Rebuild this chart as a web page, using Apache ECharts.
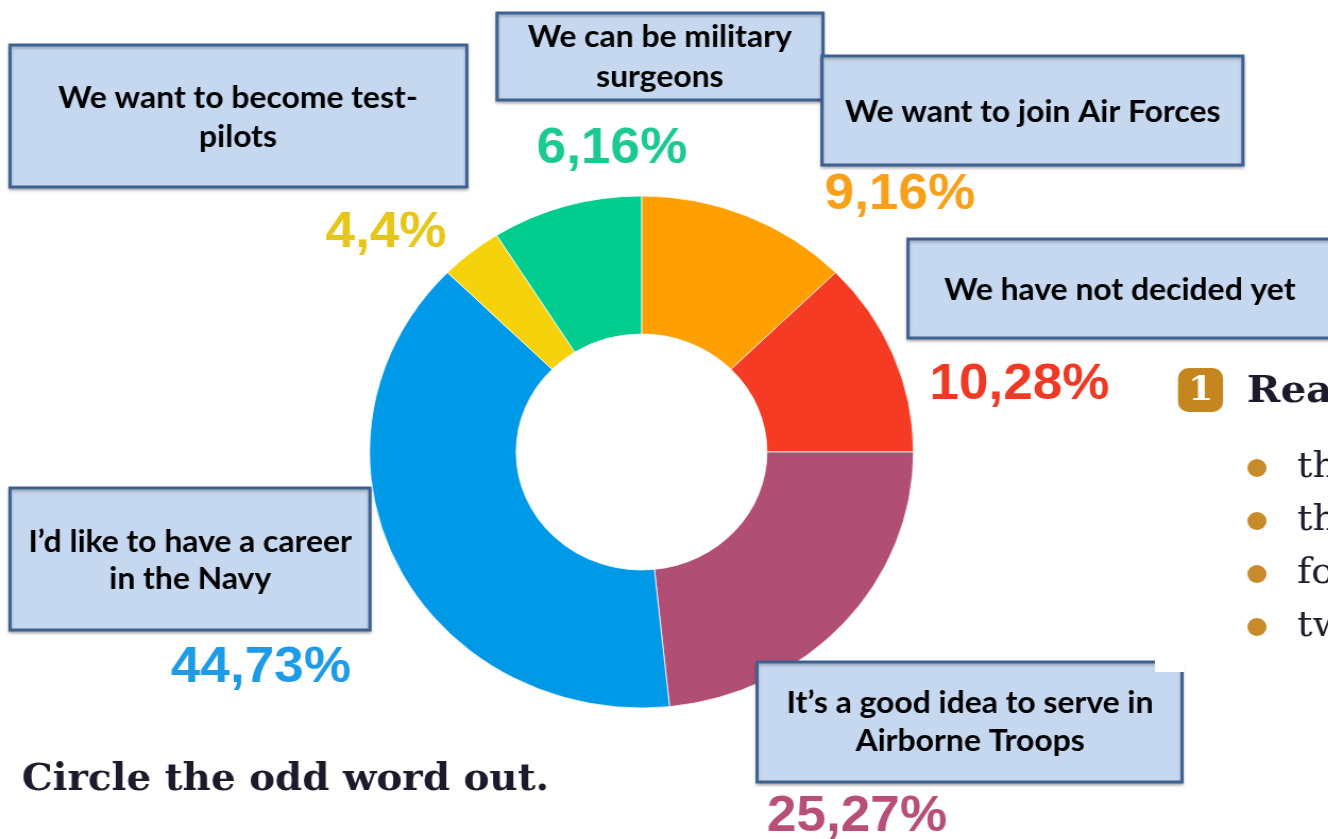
<!DOCTYPE html>
<html>
<head>
<meta charset="utf-8">
<script src="https://cdn.jsdelivr.net/npm/echarts@6/dist/echarts.min.js"></script>
<style>
html,body{margin:0;padding:0;background:#fff;overflow:hidden;width:1328px;height:839px;}
#chart{width:1250px;height:839px;transform:scaleX(1.0625);transform-origin:0 0;}
</style>
</head>
<body>
<div id="chart"></div>
<script>
// Categories (clockwise from 12 o'clock)
var categories = ["We want to join Air Forces", "We have not decided yet", "It’s a good idea to serve in Airborne Troops", "I’d like to have a career in the Navy", "We want to become test-pilots", "We can be military surgeons"];
// Slice sizes as drawn in the picture (share of the ring, %)
var sliceValues = [12.64, 12.36, 23.36, 39.0, 3.7, 8.94];
// Percent texts printed next to the slices
var pctLabels = ["9,16%", "10,28%", "25,27%", "44,73%", "4,4%", "6,16%"];
var sliceColors = ["#FFA000", "#F53B23", "#B04E74", "#0099E8", "#F5D20C", "#00CC8E"];
var labelColors = ["#F9A01A", "#EE3A24", "#B84F78", "#1E9BE6", "#E6C618", "#1DC992"];

// Layout (chart space; the canvas is stretched horizontally by 1.0625)
var labelPos = [[847, 195], [959.5, 385], [806.6, 817], [245.6, 668], [363.3, 233], [576, 149]];
var boxes = [
  {x: 9.4, y: 45, w: 430, h: 142, cx: 224, lines: ["We want to become test-", "pilots"], ly: [98, 137]},
  {x: 467.8, y: 13, w: 306.8, h: 87, cx: 621, lines: ["We can be military", "surgeons"], ly: [37, 77]},
  {x: 773.6, y: 56, w: 396.2, h: 109, cx: 972, lines: ["We want to join Air Forces"], ly: [112]},
  {x: 854.6, y: 239, w: 500, h: 99, cx: 1054, lines: ["We have not decided yet"], ly: [290]},
  {x: 9.4, y: 488, w: 338.8, h: 142, cx: 179, lines: ["I’d like to have a career", "in the Navy"], ly: [542, 579]},
  {x: 712.5, y: 662, w: 400, h: 120, cx: 913, lines: ["It’s a good idea to serve in", "Airborne Troops"], ly: [703, 741]}
];

var chart = echarts.init(document.getElementById('chart'), null, {renderer: 'canvas'});

var graphics = [];
boxes.forEach(function (b) {
  graphics.push({
    type: 'rect', z: 10,
    shape: {x: b.x, y: b.y, width: b.w, height: b.h},
    style: {fill: '#C6D8F0', stroke: '#3F6190', lineWidth: 3,
      shadowBlur: 3, shadowOffsetX: 0, shadowOffsetY: 2, shadowColor: 'rgba(0,0,0,0.25)'}
  });
  b.lines.forEach(function (t, i) {
    graphics.push({
      type: 'text', z: 11,
      x: b.cx, y: b.ly[i],
      style: {text: t, fill: '#000', font: 'bold 30px Lato, "Open Sans", sans-serif',
        textAlign: 'center', textVerticalAlign: 'middle'}
    });
  });
});
// white notch at top-right of last box
graphics.push({type: 'rect', z: 12, shape: {x: 1087, y: 648, width: 28, height: 24}, style: {fill: '#fff'}});

// background page text
graphics.push({type: 'text', z: 5, x: 20.5, y: 780,
  style: {text: 'Circle the odd word out.', fill: '#1b1b2b', font: 'bold 36.6px "DejaVu Serif", serif', textVerticalAlign: 'middle'}});
graphics.push({type: 'rect', z: 5, shape: {x: 1108.7, y: 368, width: 42.4, height: 44, r: 10}, style: {fill: '#C4871F'}});
graphics.push({type: 'text', z: 6, x: 1130, y: 391,
  style: {text: '1', fill: '#fff', font: 'bold 34px "DejaVu Serif", serif', textAlign: 'center', textVerticalAlign: 'middle'}});
graphics.push({type: 'text', z: 5, x: 1173.6, y: 392,
  style: {text: 'Read', fill: '#1b1b2b', font: 'bold 38px "DejaVu Serif", serif', textVerticalAlign: 'middle'}});
var bulletTexts = ['th', 'th', 'fo', 'tw'];
var bulletY = [468, 521, 574, 627];
bulletTexts.forEach(function (t, i) {
  graphics.push({type: 'circle', z: 5, shape: {cx: 1183, cy: bulletY[i], r: 9}, style: {fill: '#C88A2A'}});
  graphics.push({type: 'text', z: 5, x: 1220.7, y: bulletY[i],
    style: {text: t, fill: '#1b1b2b', font: '36px "DejaVu Serif", serif', textVerticalAlign: 'middle'}});
});

chart.setOption({
  animation: false,
  backgroundColor: '#fff',
  series: [{
    type: 'pie',
    center: [603.8, 452],
    radius: [118, 256],
    startAngle: 90,
    clockwise: true,
    avoidLabelOverlap: false,
    silent: true,
    itemStyle: {borderColor: '#fff', borderWidth: 0.8},
    label: {
      show: true,
      formatter: function (p) { return pctLabels[p.dataIndex]; },
      fontFamily: '"Liberation Sans", Arial, sans-serif',
      fontWeight: 'bold',
      fontSize: 50
    },
    labelLine: {show: false},
    labelLayout: function (p) {
      return {x: labelPos[p.dataIndex][0], y: labelPos[p.dataIndex][1], align: 'center', verticalAlign: 'middle'};
    },
    data: categories.map(function (c, i) {
      return {name: c, value: sliceValues[i], itemStyle: {color: sliceColors[i]}, label: {color: labelColors[i]}};
    })
  }],
  graphic: graphics
});
</script>
</body>
</html>
